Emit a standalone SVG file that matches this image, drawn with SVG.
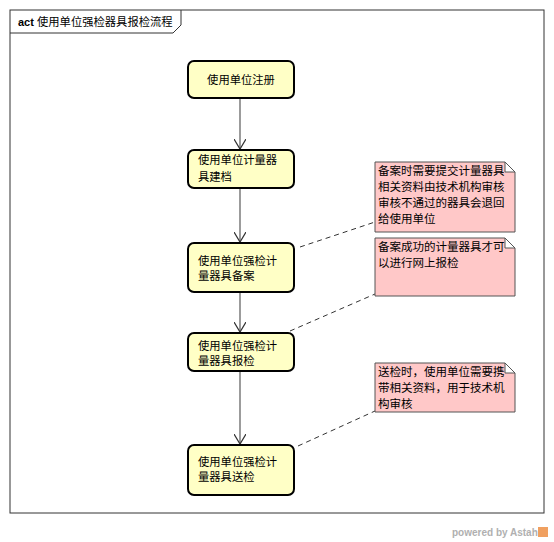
<svg xmlns="http://www.w3.org/2000/svg" width="554" height="542" viewBox="0 0 554 542">
<style>
.t{font-family:"Noto Sans CJK SC","Liberation Sans",sans-serif;font-size:11.3px;fill:#000}
.note .t{font-size:11.5px}
.node rect{fill:#ffffc6;stroke:#000;stroke-width:2}
.note path{fill:#ffc8c8;stroke:#555;stroke-width:1}
.edge{stroke:#666;stroke-width:1.3;fill:none}
.dash{stroke:#333;stroke-width:1;stroke-dasharray:5,4;fill:none}
</style>
<defs>
<marker id="arr" markerWidth="12" markerHeight="12" refX="10" refY="6" orient="auto" markerUnits="userSpaceOnUse">
<path d="M0,0 L10,6 L0,12" fill="none" stroke="#333" stroke-width="1.2"/>
</marker>
</defs>
<rect width="554" height="542" fill="#fff"/>
<g id="frame">
<rect x="10" y="10" width="534" height="503" fill="none" stroke="#333" stroke-width="1"/>
<path d="M10,33 L173,33 L181,25 L181,10" fill="none" stroke="#333" stroke-width="1"/>
<text x="18" y="26" style="font-family:'Liberation Sans',sans-serif;font-weight:bold;font-size:11px">act</text>
<text x="37" y="26" class="t">使用单位强检器具报检流程</text>
</g>
<g id="connectors">
<line class="edge" x1="240" y1="99" x2="240" y2="149" marker-end="url(#arr)"/>
<line class="edge" x1="240" y1="189" x2="240" y2="242" marker-end="url(#arr)"/>
<line class="edge" x1="240" y1="293" x2="240" y2="332" marker-end="url(#arr)"/>
<line class="edge" x1="240" y1="372" x2="240" y2="444" marker-end="url(#arr)"/>
<line class="dash" x1="300" y1="247" x2="375" y2="222"/>
<line class="dash" x1="290" y1="331" x2="375" y2="294"/>
<line class="dash" x1="298" y1="446" x2="375" y2="411"/>
</g>
<g id="n1" class="node"><rect x="188" y="61" width="106" height="37" rx="6"/><text class="t" x="241" y="84" text-anchor="middle">使用单位注册</text></g>
<g id="n2" class="node"><rect x="188" y="150" width="106" height="38" rx="6"/><text class="t" x="198" y="164">使用单位计量器</text><text class="t" x="198" y="181">具建档</text></g>
<g id="n3" class="node"><rect x="188" y="243" width="106" height="49" rx="6"/><text class="t" x="198" y="265">使用单位强检计</text><text class="t" x="198" y="280">量器具备案</text></g>
<g id="n4" class="node"><rect x="188" y="333" width="106" height="38" rx="6"/><text class="t" x="198" y="350">使用单位强检计</text><text class="t" x="198" y="365">量器具报检</text></g>
<g id="n5" class="node"><rect x="188" y="445" width="106" height="50" rx="6"/><text class="t" x="198" y="466">使用单位强检计</text><text class="t" x="198" y="481">量器具送检</text></g>
<g id="note1" class="note"><path d="M375,162 L505,162 L515,172 L515,232 L375,232 Z M505,162 L505,172 L515,172"/>
<text class="t" x="378" y="175">备案时需要提交计量器具</text><text class="t" x="378" y="191">相关资料由技术机构审核</text><text class="t" x="378" y="207">审核不通过的器具会退回</text><text class="t" x="378" y="223">给使用单位</text></g>
<g id="note2" class="note"><path d="M375,238 L505,238 L515,248 L515,296 L375,296 Z M505,238 L505,248 L515,248"/>
<text class="t" x="378" y="251">备案成功的计量器具才可</text><text class="t" x="378" y="267">以进行网上报检</text></g>
<g id="note3" class="note"><path d="M375,363 L505,363 L515,373 L515,412 L375,412 Z M505,363 L505,373 L515,373"/>
<text class="t" x="378" y="376">送检时，使用单位需要携</text><text class="t" x="378" y="392">带相关资料，用于技术机</text><text class="t" x="378" y="408">构审核</text></g>
<g id="brand">
<text x="452" y="536" style="font-family:'Liberation Sans',sans-serif;font-weight:bold;font-size:10px;fill:#b0b0b0">powered by Astah</text>
<rect x="538" y="527" width="10" height="10" fill="#f0a060"/>
</g>
</svg>
